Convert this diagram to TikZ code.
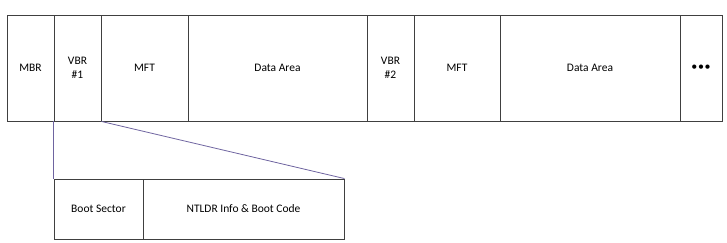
\documentclass[tikz,border=0pt]{standalone}
\usepackage{fontspec}
\setmainfont{Carlito}
\begin{document}
\begin{tikzpicture}[x=1pt,y=-1pt,
  cell/.style={draw=black!75,line width=0.9pt,inner sep=0pt,font=\fontsize{11.5}{13.5}\selectfont,align=center},
  zoomline/.style={draw={rgb,255:red,110;green,100;blue,160},line width=0.8pt}]
\useasboundingbox (0,0) rectangle (727,242);
\node[cell,minimum width=47pt,minimum height=106pt] (mbr) at (30.5,68) {MBR};
\node[cell,minimum width=47pt,minimum height=106pt] (vbr1) at (77.5,68) {VBR\\\#1};
\node[cell,minimum width=87pt,minimum height=106pt] (mft1) at (144.5,68) {MFT};
\node[cell,minimum width=179pt,minimum height=106pt] (data1) at (277.5,68) {Data Area};
\node[cell,minimum width=47pt,minimum height=106pt] (vbr2) at (390.5,68) {VBR\\\#2};
\node[cell,minimum width=86pt,minimum height=106pt] (mft2) at (457,68) {MFT};
\node[cell,minimum width=180pt,minimum height=106pt] (data2) at (590,68) {Data Area};
\node[cell,minimum width=42pt,minimum height=106pt] (dots) at (701,68) {\fontsize{12}{12}\selectfont\textbullet\kern0.6pt\textbullet\kern0.6pt\textbullet};
\node[cell,minimum width=89pt,minimum height=60pt] (boot) at (98.5,209) {Boot Sector};
\node[cell,minimum width=201pt,minimum height=60pt] (ntldr) at (243.5,209) {NTLDR Info \& Boot Code};
\draw[zoomline] (vbr1.south west) -- (boot.north west);
\draw[zoomline] (vbr1.south east) -- (ntldr.north east);
\end{tikzpicture}
\end{document}
